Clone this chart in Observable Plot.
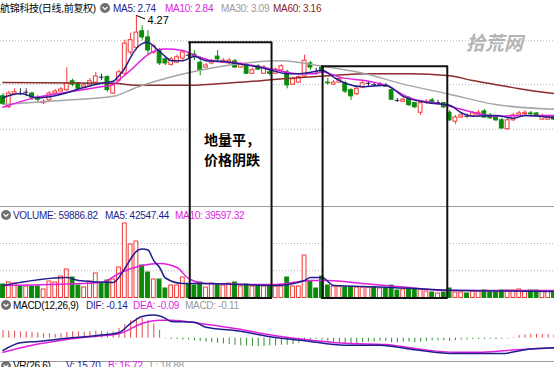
<!DOCTYPE html>
<html>
<head>
<meta charset="utf-8">
<script src="https://cdn.jsdelivr.net/npm/d3@7"></script>
<script src="https://cdn.jsdelivr.net/npm/@observablehq/plot@0.6"></script>
<style>
html,body{margin:0;padding:0;background:#fff;}
#wrap{position:relative;width:554px;height:367px;overflow:hidden;background:#fff;
 font-family:"Liberation Sans",Arial,"Noto Sans CJK SC",sans-serif;font-size:10px;}
.seg{position:absolute;white-space:nowrap;line-height:13px;letter-spacing:-0.3px;}
.ico{position:absolute;width:10px;height:10px;}
.panel{position:absolute;left:0;}
.sep{position:absolute;left:0;width:554px;height:0;border-top:1px solid #9a9a9a;}
#note{position:absolute;left:204px;top:129px;font:bold 14px/20px "Noto Sans CJK SC",sans-serif;color:#000;white-space:nowrap;}
#wm{position:absolute;left:466px;top:31px;font:italic bold 19px/22px "Noto Sans CJK SC",sans-serif;color:#b4b4b4;white-space:nowrap;}
</style>
</head>
<body>
<div id="wrap"></div>
<script>
// ---------- data ----------
const opens = [3.09,2.93,3.12,3.13,3.15,3.13,3.07,2.99,3.03,3.13,
 3.16,3.18,3.31,3.28,3.22,3.25,3.29,3.37,3.37,3.13,
 3.32,3.42,3.73,3.80,4.04,3.95,3.73,3.76,3.63,3.55,
 3.58,3.64,3.69,3.70,3.58,3.51,3.57,3.67,3.58,3.57,
 3.60,3.51,3.54,3.42,3.53,3.42,3.44,3.42,3.47,3.44,
 3.26,3.29,3.38,3.57,3.45,3.51,3.29,3.26,3.29,3.28,
 3.18,3.12,3.22,3.28,3.26,3.26,3.25,3.18,3.03,3.01,
 3.06,2.99,2.85,3.00,3.03,3.00,2.99,2.85,2.72,2.78,
 2.80,2.80,2.81,2.87,2.81,2.78,2.74,2.61,2.74,2.81,
 2.83,2.84,2.84,2.75,2.75,2.80];
const closes = [2.98,3.13,3.15,3.13,3.15,3.07,3.04,3.01,3.13,3.16,
 3.19,3.28,3.26,3.20,3.25,3.31,3.38,3.37,3.18,3.26,
 3.44,3.86,3.91,4.02,3.95,3.76,3.82,3.57,3.57,3.63,
 3.66,3.73,3.69,3.67,3.47,3.54,3.60,3.63,3.61,3.61,
 3.51,3.55,3.42,3.47,3.48,3.51,3.42,3.48,3.53,3.25,
 3.34,3.37,3.61,3.51,3.45,3.44,3.28,3.29,3.34,3.16,
 3.09,3.20,3.28,3.28,3.26,3.26,3.23,3.04,3.03,3.04,
 2.96,2.93,2.99,3.01,2.99,3.00,2.93,2.74,2.78,2.81,
 2.80,2.84,2.85,2.78,2.77,2.74,2.62,2.74,2.81,2.84,
 2.85,2.83,2.80,2.80,2.78,2.75];
const highs = [3.13,3.16,3.20,3.20,3.20,3.15,3.10,3.04,3.16,3.19,
 3.22,3.51,3.34,3.29,3.28,3.35,3.44,3.41,3.39,3.29,
 3.47,3.91,4.01,4.27,4.12,4.05,3.85,3.79,3.66,3.66,
 3.69,3.76,3.73,3.76,3.67,3.57,3.63,3.76,3.64,3.64,
 3.63,3.58,3.57,3.50,3.55,3.54,3.47,3.50,3.55,3.47,
 3.37,3.39,3.69,3.60,3.50,3.54,3.35,3.32,3.37,3.31,
 3.20,3.23,3.31,3.31,3.29,3.29,3.28,3.20,3.06,3.07,
 3.09,3.00,3.01,3.04,3.06,3.03,3.00,2.88,2.81,2.84,
 2.83,2.87,2.88,2.90,2.84,2.81,2.77,2.77,2.84,2.87,
 2.88,2.87,2.85,2.83,2.81,2.81];
const lows = [2.96,2.91,3.10,3.10,3.09,3.03,3.00,2.97,3.01,3.12,
 3.15,3.16,3.23,3.19,3.20,3.23,3.28,3.32,3.15,3.12,
 3.29,3.39,3.69,3.76,3.91,3.69,3.70,3.54,3.54,3.53,
 3.57,3.61,3.64,3.61,3.39,3.50,3.55,3.58,3.57,3.55,
 3.50,3.50,3.41,3.41,3.47,3.41,3.39,3.41,3.45,3.20,
 3.25,3.28,3.37,3.47,3.41,3.41,3.25,3.25,3.28,3.13,
 3.03,3.10,3.20,3.23,3.23,3.23,3.22,3.03,3.00,3.00,
 2.94,2.91,2.81,2.97,2.97,2.97,2.91,2.72,2.68,2.77,
 2.77,2.78,2.80,2.77,2.75,2.72,2.61,2.59,2.72,2.80,
 2.81,2.81,2.78,2.74,2.74,2.74];
const volumes = [135,155,145,115,115,115,115,85,165,155,
 215,285,205,125,105,165,245,145,175,185,
 305,745,535,565,325,255,185,185,95,125,
 125,205,135,125,155,105,145,135,125,145,
 155,115,135,115,125,115,115,115,115,205,
 115,115,425,165,95,215,125,115,115,105,
 105,105,105,105,105,95,95,125,75,85,
 95,85,85,65,55,45,55,95,55,55,
 45,65,65,75,55,55,75,75,75,85,
 65,75,75,65,65,65].map(v => v * 1000);
const macdHist = [0.12,0.11,0.11,0.10,0.10,0.09,0.08,0.07,0.07,0.06,
 0.07,0.09,0.10,0.10,0.09,0.10,0.11,0.10,0.09,0.10,
 0.15,0.21,0.27,0.31,0.31,0.28,0.22,0.12,
 -0.01,-0.02,-0.02,-0.03,-0.03,-0.04,
 -0.05,-0.06,-0.07,-0.08,-0.09,-0.10,-0.11,-0.12,-0.12,-0.13,-0.13,-0.13,-0.12,-0.12,
 -0.11,-0.11,-0.10,-0.08,-0.05,-0.03,-0.02,-0.03,
 -0.05,-0.06,-0.07,-0.08,-0.09,-0.08,-0.07,
 -0.06,-0.06,-0.05,-0.05,-0.07,-0.07,-0.06,-0.06,-0.07,-0.06,-0.05,-0.04,-0.04,
 -0.04,-0.05,-0.04,-0.03,-0.03,-0.02,-0.02,-0.02,-0.02,-0.02,-0.02,-0.01,0.01,
 0.04,0.05,0.06,0.06,0.06,0.06,0.05];

// moving-average lines, read at sample days (day index, value)
const ma5Idx = [0,3,6,9,14,17,19,20,21,22,23,24,25,26,28,29,31,33,35,38,41,45,49,51,53,55,57,59,62,66,69,73,77,79,81,85,88,90,95];
const ma5Val = [3.07,3.13,3.07,3.10,3.22,3.28,3.31,3.39,3.50,3.66,3.79,3.86,3.88,3.82,3.67,3.61,3.61,3.67,3.61,3.60,3.56,3.50,3.42,3.42,3.44,3.47,3.37,3.28,3.23,3.25,3.09,3.00,2.96,2.85,2.80,2.81,2.77,2.81,2.78];
const ma10Idx = [0,5,11,17,19,20,22,23,25,28,31,33,36,41,45,51,54,55,58,63,66,70,76,79,85,90,95];
const ma10Val = [2.93,3.06,3.15,3.23,3.26,3.33,3.47,3.55,3.70,3.78,3.76,3.69,3.61,3.57,3.51,3.42,3.42,3.45,3.37,3.31,3.25,3.07,2.97,2.90,2.80,2.81,2.81];
const ma30Idx = [0,10,19,23,28,34,41,48,55,63,68,77,85,95];
const ma30Val = [2.97,3.03,3.09,3.22,3.35,3.47,3.57,3.61,3.53,3.41,3.29,3.12,2.97,2.90];
const ma60Idx = [0,19,23,32,40,49,56,63,70,77,81,85,89,95];
const ma60Val = [3.29,3.28,3.25,3.25,3.29,3.35,3.39,3.42,3.42,3.39,3.32,3.26,3.20,3.13];
const volMa5Idx = [0,11,13,19,21,22,23,24,25,26,27,28,31,34,47,52,53,55,57,65,76,95];
const volMa5Val = [125,205,175,155,295,390,467,490,480,373,305,200,145,145,125,175,205,205,125,110,80,65].map(v => v * 1000);
const volMa10Idx = [0,17,20,24,27,30,32,35,47,53,56,62,70,76,95];
const volMa10Val = [125,155,245,325,345,305,195,145,135,175,175,145,105,75,75].map(v => v * 1000);
const difIdx = [0,3,6,11,16,20,22,24,26,28,29,33,35,40,47,52,59,65,71,78,82,86,90,95];
const difVal = [-0.19,-0.07,-0.05,0.00,0.04,0.09,0.23,0.34,0.36,0.31,0.26,0.25,0.17,0.12,0.01,-0.04,-0.11,-0.11,-0.18,-0.24,-0.24,-0.24,-0.18,-0.15];
const deaIdx = [0,5,11,17,20,24,27,29,34,40,47,52,59,66,71,78,82,87,95];
const deaVal = [-0.22,-0.11,-0.02,0.04,0.07,0.23,0.28,0.28,0.23,0.15,0.04,-0.02,-0.08,-0.10,-0.16,-0.22,-0.22,-0.19,-0.15];

// annotation boxes (day index span, top price)
const boxStart = [32.2, 55.1];
const boxEnd = [46.3, 76.6];
const boxTop = [3.88, 3.53];

// grid levels
const priceGrid = [3.90, 3.26, 2.61];
const volGrid = [272500, 545000];

// header labels
const NAVY = "#1e1e8c", MAG = "#e01ee0", GRAY = "#9a9a9a", DRED = "#8a2222";
const hdrMain = [["航锦科技(日线,前复权)", "#000", 0], [null, null, 100], ["MA5: 2.74", NAVY, 113], ["MA10: 2.84", MAG, 165], ["MA30: 3.09", GRAY, 221], ["MA60: 3.16", DRED, 273]];
const hdrVol = [[null, null, 1], ["VOLUME: 59886.82", NAVY, 13], ["MA5: 42547.44", NAVY, 105], ["MA10: 39597.32", MAG, 175]];
const hdrMacd = [[null, null, 1], ["MACD(12,26,9)", "#000", 13], ["DIF: -0.14", NAVY, 86], ["DEA: -0.09", MAG, 133], ["MACD: -0.11", GRAY, 185]];
const hdrVr = [[null, null, 1], ["VR(26,6)", "#000", 13], ["V: 15.70", NAVY, 66], ["B: 16.72", MAG, 108], ["L: 18.88", GRAY, 150]];
const noteLines = ["地量平，", "价格阴跌"];
const watermark = "拾荒网";

// ---------- build ----------
const UP = "#f23838", DN = "#0a8a0a", DOJI = "#222244";
const wrap = document.getElementById("wrap");
const W = 554, STEP = 5.8, X0 = 2.5;
const xScale = {domain: [-X0 / STEP, (W - X0) / STEP], range: [0, W], axis: null};
const pxPrice = 0.0146, topPrice = 4.489;
const mainH = 206, volH = 92, macdH = 63;
const pMin = topPrice - pxPrice * mainH;

const candles = opens.map((o, i) => ({i, o, c: closes[i], h: highs[i], l: lows[i]}));
const col = d => d.c > d.o ? UP : d.c < d.o ? DN : DOJI;
const vols = volumes.map((v, i) => {
  const d = candles[i];
  const up = d.c > d.o || (d.c === d.o && i > 0 && d.c >= candles[i - 1].c);
  return {i, v, up};
});
const pairs = (idx, val) => idx.map((i, k) => ({i, v: val[k]}));
const boxes = boxStart.map((a, k) => ({a, b: boxEnd[k], top: boxTop[k]}));
const boxEdges = boxes.flatMap(b => [{x: b.a, top: b.top}, {x: b.b, top: b.top}]);
const peak = candles.reduce((m, d) => d.h > m.h ? d : m, candles[0]);
const svgStyle = {background: "transparent", overflow: "visible", fontFamily: "Liberation Sans, Arial, sans-serif"};
const BOX = "#111";

function sep(y) { const d = document.createElement("div"); d.className = "sep"; d.style.top = y + "px"; wrap.appendChild(d); }
function header(segs, top) {
  segs.forEach(([t, c, x]) => {
    if (t === null) {
      const d = document.createElement("div"); d.className = "ico";
      d.style.left = x + "px"; d.style.top = (top + 1.5) + "px";
      d.innerHTML = '<svg width="10" height="10"><circle cx="5" cy="5" r="5" fill="#707070"/><path d="M2.6 4 L5 6.4 L7.4 4" stroke="#fff" stroke-width="1.3" fill="none"/></svg>';
      wrap.appendChild(d);
    } else {
      const d = document.createElement("div"); d.className = "seg";
      d.style.left = x + "px"; d.style.top = top + "px"; d.style.color = c; d.textContent = t;
      wrap.appendChild(d);
    }
  });
}
function panel(svg, top) { const d = document.createElement("div"); d.className = "panel"; d.style.top = top + "px"; d.appendChild(svg); wrap.appendChild(d); }

sep(206); sep(361);
header(hdrMain, 1.5);
header(hdrVol, 208.5);
header(hdrMacd, 298.5);
header(hdrVr, 359);

const mainPlot = Plot.plot({
  width: W, height: mainH, margin: 0, style: svgStyle,
  x: xScale,
  y: {domain: [pMin, topPrice], range: [mainH, 0], axis: null},
  marks: [
    Plot.ruleY(priceGrid, {stroke: "#b4b4b4", strokeDasharray: "1,2"}),
    Plot.rect(boxes, {x1: "a", x2: "b", y1: "top", y2: pMin, fill: "white"}),
    Plot.ruleX(candles, {x: "i", y1: "l", y2: "h", stroke: col}),
    Plot.rect(candles.filter(d => d.o !== d.c), {x1: d => d.i - 0.33, x2: d => d.i + 0.33, y1: "o", y2: "c",
      fill: d => d.c > d.o ? "#fff" : DN, stroke: col, strokeWidth: 1}),
    Plot.ruleY(candles.filter(d => d.o === d.c), {y: "c", x1: d => d.i - 0.4, x2: d => d.i + 0.4, stroke: DOJI}),
    Plot.line(pairs(ma60Idx, ma60Val), {x: "i", y: "v", stroke: "#8c2c2c", curve: "monotone-x"}),
    Plot.line(pairs(ma30Idx, ma30Val), {x: "i", y: "v", stroke: "#a6a6a6", curve: "monotone-x"}),
    Plot.line(pairs(ma10Idx, ma10Val), {x: "i", y: "v", stroke: MAG, curve: "monotone-x"}),
    Plot.line(pairs(ma5Idx, ma5Val), {x: "i", y: "v", stroke: NAVY, curve: "monotone-x"}),
    Plot.ruleX(boxEdges, {x: "x", y1: "top", y2: pMin, stroke: BOX, strokeWidth: 2}),
    Plot.ruleY(boxes, {y: "top", x1: "a", x2: "b", stroke: BOX, strokeWidth: 2, strokeLinecap: "square"}),
    Plot.link([peak], {x1: "i", y1: "h", x2: d => d.i + 1.5, y2: d => d.h - 0.05, stroke: "#000"}),
    Plot.text([peak], {x: "i", y: "h", text: d => d.h.toFixed(2), dx: 11, dy: 5, textAnchor: "start", fontSize: 11, fill: "#000"})
  ]
});
panel(mainPlot, 0);

const volTop = 91.5 * 1e4;
const volPlot = Plot.plot({
  width: W, height: volH, margin: 0, style: svgStyle,
  x: xScale,
  y: {domain: [0, volTop], range: [91.5, 0], axis: null},
  marks: [
    Plot.ruleY(volGrid, {stroke: "#b4b4b4", strokeDasharray: "1,2"}),
    Plot.rect(boxes, {x1: "a", x2: "b", y1: 0, y2: 720000, fill: "white"}),
    Plot.rect(vols, {x1: d => d.i - 0.33, x2: d => d.i + 0.33, y1: 0, y2: "v",
      fill: d => d.up ? "#fff" : DN, stroke: d => d.up ? UP : DN, strokeWidth: 1}),
    Plot.line(pairs(volMa10Idx, volMa10Val), {x: "i", y: "v", stroke: MAG, curve: "monotone-x"}),
    Plot.line(pairs(volMa5Idx, volMa5Val), {x: "i", y: "v", stroke: NAVY, curve: "monotone-x"}),
    Plot.ruleX(boxEdges, {x: "x", y1: 0, y2: volTop, stroke: BOX, strokeWidth: 2}),
    Plot.ruleY(boxes, {y: 0, x1: "a", x2: "b", stroke: BOX, strokeWidth: 2, strokeLinecap: "square"})
  ]
});
panel(volPlot, 206);

const hist = macdHist.map((m, i) => ({i, m}));
const macdPlot = Plot.plot({
  width: W, height: macdH, margin: 0, style: svgStyle,
  x: xScale,
  y: {domain: [-23.3 * 0.0156, 39.7 * 0.0156], range: [macdH, 0], axis: null},
  marks: [
    Plot.ruleX(hist, {x: "i", y1: 0, y2: "m", stroke: d => d.m >= 0 ? "#e24b4b" : "#2f8f2f"}),
    Plot.line(pairs(deaIdx, deaVal), {x: "i", y: "v", stroke: MAG, curve: "monotone-x"}),
    Plot.line(pairs(difIdx, difVal), {x: "i", y: "v", stroke: NAVY, curve: "monotone-x"})
  ]
});
panel(macdPlot, 298);

const note = document.createElement("div"); note.id = "note";
note.innerHTML = noteLines.join("<br>");
wrap.appendChild(note);
const wm = document.createElement("div"); wm.id = "wm"; wm.textContent = watermark;
wrap.appendChild(wm);
</script>
</body>
</html>
